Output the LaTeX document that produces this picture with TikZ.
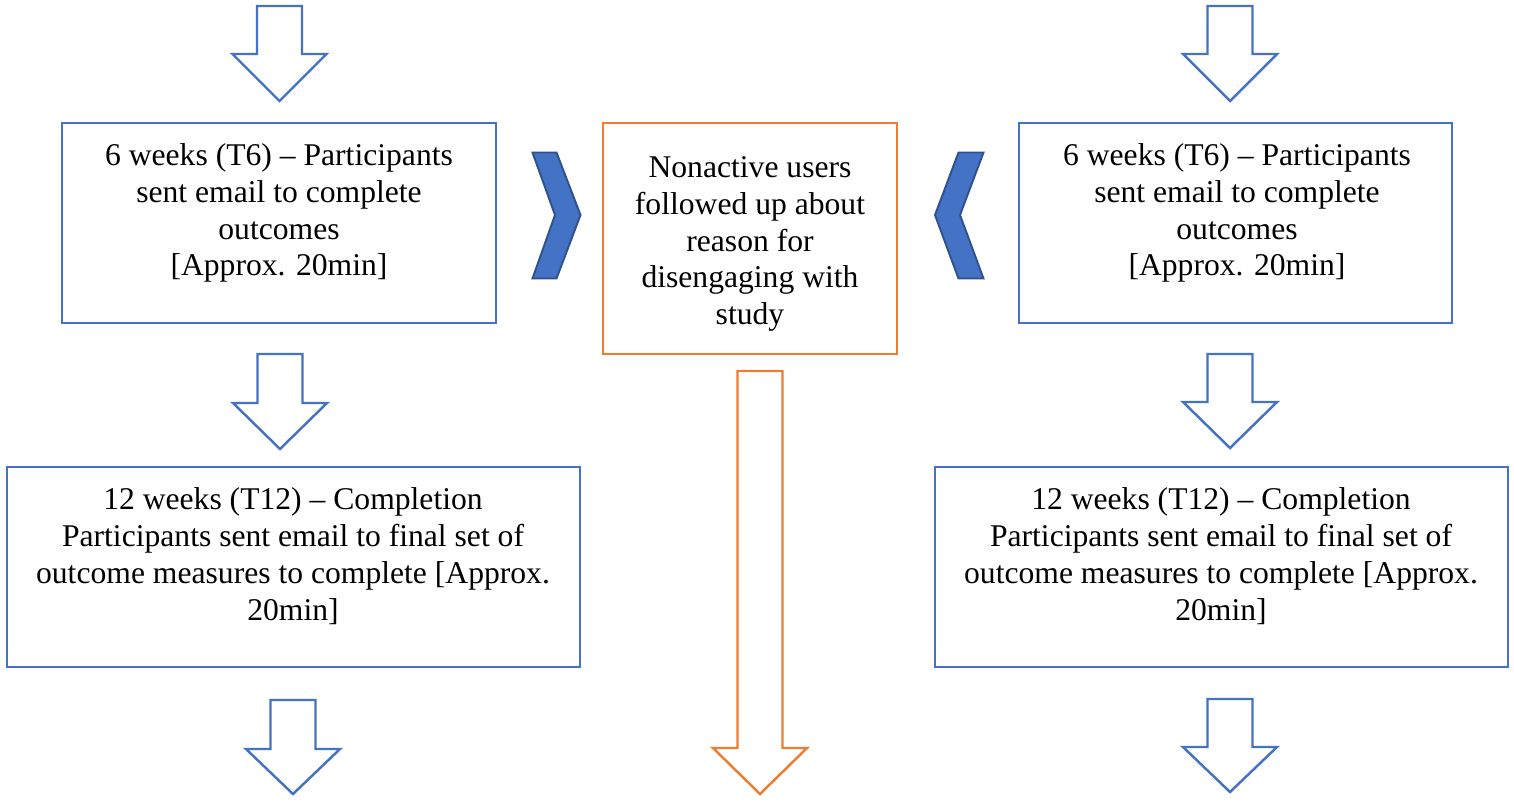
\documentclass[tikz,border=0pt]{standalone}
\usepackage{fontspec}
\setmainfont{Liberation Serif}
\definecolor{wblue}{HTML}{4472C4}
\definecolor{wdark}{HTML}{2F528F}
\definecolor{worange}{HTML}{ED7D31}
\newcommand{\hollowdown}[5]{% center x, top y, head y, tip y, colour
  \draw[arrowline,draw=#5] (#1-22.5,#2) -- (#1+22.5,#2) -- (#1+22.5,#3) -- (#1+47,#3)
    -- (#1,#4) -- (#1-47,#3) -- (#1-22.5,#3) -- cycle;}
\begin{document}
\begin{tikzpicture}[x=0.02cm,y=-0.02cm,
  box/.style={draw=#1,line width=1.1pt,fill=white,inner sep=0pt},
  arrowline/.style={line width=1.4pt,fill=white,line join=miter},
  chev/.style={fill=wblue,draw=wdark,line width=1.1pt,line join=miter},
  txt/.style={align=center,font=\fontsize{18}{21}\selectfont,inner sep=0pt}]
\useasboundingbox (0,0) rectangle (1514,802);
% boxes
\node[box=wblue,minimum width=434*0.02cm,minimum height=200*0.02cm] (b1l) at (279,223) {};
\node[box=wblue,minimum width=433*0.02cm,minimum height=200*0.02cm] (b1r) at (1235.5,223) {};
\node[box=worange,minimum width=294*0.02cm,minimum height=231*0.02cm] (bm) at (750,238.5) {};
\node[box=wblue,minimum width=573*0.02cm,minimum height=200*0.02cm] (b2l) at (293.5,567) {};
\node[box=wblue,minimum width=573*0.02cm,minimum height=200*0.02cm] (b2r) at (1221.5,567) {};
% texts
\node[txt] (t1l) at (279,213) {6 weeks (T6) -- Participants\\sent email to complete\\outcomes\\{}[Approx. 20min]};
\node[txt] (t1r) at (1237,213) {6 weeks (T6) -- Participants\\sent email to complete\\outcomes\\{}[Approx. 20min]};
\node[txt] (tm) at (750,244) {Nonactive users\\followed up about\\reason for\\disengaging with\\study};
\node[txt] (t2l) at (293,556) {12 weeks (T12) -- Completion\\Participants sent email to final set of\\outcome measures to complete [Approx.\\20min]};
\node[txt] (t2r) at (1221,556) {12 weeks (T12) -- Completion\\Participants sent email to final set of\\outcome measures to complete [Approx.\\20min]};
% chevrons
\draw[chev] (532.5,152.5) -- (556.5,152.5) -- (580.5,215) -- (556.5,278.5) -- (532.5,278.5) -- (555,215) -- cycle;
\draw[chev] (983.5,152.5) -- (958.5,152.5) -- (935,215) -- (958.5,278.5) -- (983.5,278.5) -- (960,215) -- cycle;
% hollow arrows
\hollowdown{279.5}{6}{54}{101}{wblue}
\hollowdown{1230}{6}{54}{101}{wblue}
\hollowdown{280}{354}{403}{449}{wblue}
\hollowdown{1230}{354}{402}{448}{wblue}
\hollowdown{293}{700}{749}{794}{wblue}
\hollowdown{1230}{699}{747}{792}{wblue}
\hollowdown{760}{371}{748}{794}{worange}
\end{tikzpicture}
\end{document}
